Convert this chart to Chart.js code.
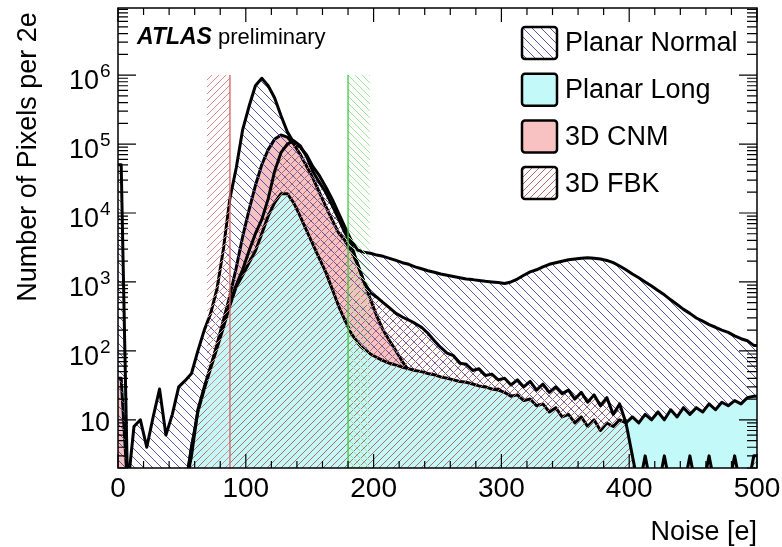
<!DOCTYPE html>
<html>
<head>
<meta charset="utf-8">
<script src="https://cdn.jsdelivr.net/npm/chart.js@4.4.1/dist/chart.umd.min.js"></script>
<style>
  body { margin: 0; background: #fff; }
  canvas { display: block; }
</style>
</head>
<body>
<canvas id="noiseChart" width="782" height="547"></canvas>
<script>
// Histogrammes de bruit, bins de 5 e entre 0 et 500
const binWidth = 5;
const binEdges = Array.from({ length: 100 }, (_, i) => i * binWidth);

// valeurs (1 = bin vide, sous le bas de l'axe)
const planarNormal = [
  50000, 1, 8, 10, 4, 11, 28, 6, 12, 30,
  37, 47, 100, 200, 350, 800, 3000, 16000, 45000, 160000,
  350000, 700000, 900000, 700000, 470000, 260000, 150000, 105000, 90000, 70000,
  47000, 35000, 24000, 16000, 10000, 6300, 4000, 2900, 2700, 2600,
  2450, 2350, 2200, 2050, 1900, 1800, 1650, 1550, 1450, 1380,
  1300, 1250, 1200, 1150, 1100, 1080, 1050, 1020, 1000, 980,
  950, 1000, 1100, 1250, 1400, 1500, 1650, 1800, 1900, 2000,
  2100, 2150, 2200, 2250, 2200, 2150, 2050, 1900, 1700, 1500,
  1300, 1150, 1000, 870, 750, 650, 550, 470, 400, 350,
  300, 270, 240, 220, 200, 185, 165, 150, 140, 120
];
const planarLong = [
  1, 1, 1, 1, 1, 1, 1, 1, 1, 1,
  1, 4, 13, 28, 56, 110, 220, 450, 850, 1250,
  1900, 2800, 5000, 9000, 14000, 19000, 19000, 14000, 9000, 5600,
  3500, 2200, 1400, 800, 450, 280, 180, 130, 105, 90,
  80, 72, 66, 62, 58, 55, 52, 50, 47, 45,
  42, 40, 38, 36, 35, 33, 31, 30, 28, 27,
  25, 22, 23, 19, 20, 16, 17, 13, 15, 11,
  12, 9, 11, 8, 10, 7, 9, 8, 10, 9,
  11, 9, 12, 10, 13, 10, 14, 11, 15, 12,
  15, 13, 17, 14, 18, 16, 19, 17, 21, 22
];
const cnm3d = [
  40, 1, 1, 1, 1, 1, 1, 1, 1, 1,
  1, 4, 12, 25, 56, 125, 280, 630, 1600, 4500,
  11000, 25000, 50000, 83000, 117000, 135000, 126000, 100000, 71000, 48000,
  32000, 20000, 12600, 8000, 5200, 4000, 2800, 1800, 1000, 560,
  320, 200, 140, 100, 70, 52, 42, 38, 44, 34,
  40, 38, 36, 35, 32, 33, 29, 30, 27, 28,
  24, 21, 20, 18, 17, 15, 14, 12, 11, 10,
  10, 9, 8, 8, 7, 6, 6, 5, 4, 3,
  3, 1, 1, 3, 1, 1, 1, 3, 1, 1,
  1, 3, 1, 1, 3, 1, 1, 1, 3, 1
];
const fbk3d = [
  1, 1, 1, 1, 1, 1, 1, 1, 1, 1,
  1, 3, 14, 30, 60, 120, 240, 480, 900, 1500,
  2800, 5000, 8000, 16000, 40000, 75000, 100000, 112000, 95000, 66000,
  40000, 28000, 20000, 13000, 8300, 5200, 3500, 1800, 1000, 700,
  600, 500, 420, 350, 310, 280, 250, 220, 180, 140,
  112, 93, 85, 66, 64, 52, 55, 44, 46, 38,
  40, 32, 38, 30, 36, 27, 33, 25, 30, 24,
  27, 20, 25, 18, 23, 16, 21, 12, 17, 9,
  3, 1, 3, 1, 1, 3, 1, 1, 1, 3,
  1, 1, 3, 1, 1, 1, 3, 1, 1, 3
];

// seuils (bandes hachurées verticales)
const redBand = [69.6, 87.6];
const greenBand = [180, 197];
const bandTop = 1e6;

// axes
const xMin = 0, xMax = 500;
const yMin = 2, yMax = 9.4e6;
const xLabels = [0, 100, 200, 300, 400, 500];
const yDecades = [1, 2, 3, 4, 5, 6];

const legendNames = ['Planar Normal', 'Planar Long', '3D CNM', '3D FBK'];

const FONT = '"Liberation Sans", Arial, Helvetica, sans-serif';

// motif de hachures diagonales
function hatch(color, period, dir, width) {
  const c = document.createElement('canvas');
  c.width = c.height = period;
  const g = c.getContext('2d');
  g.strokeStyle = color;
  g.lineWidth = width;
  g.beginPath();
  for (const k of [-period, 0, period]) {
    if (dir === '/') {
      g.moveTo(-1, period + 1 + k);
      g.lineTo(period + 1, -1 + k);
    } else {
      g.moveTo(-1, -1 + k);
      g.lineTo(period + 1, period + 1 + k);
    }
  }
  g.stroke();
  return g.createPattern(c, 'repeat');
}

const pnHatch = hatch('#5858a8', 9, '\\', 1);
const fbkHatch = hatch('#b26a6a', 7, '/', 1);
const redHatch = hatch('#d88a8a', 7, '/', 1);
const greenHatch = hatch('#9ee39e', 7, '\\', 1);
const cyanFill = '#c4f9f9';
const pinkFill = '#f8c2c2';

// un point au centre de chaque bin, plus les deux bords extrêmes
function toPoints(values) {
  const pts = [{ x: binEdges[0], y: values[0] }];
  values.forEach((v, i) => {
    pts.push({ x: binEdges[i] + binWidth / 2, y: v });
  });
  pts.push({ x: binEdges[binEdges.length - 1] + binWidth, y: values[values.length - 1] });
  return pts;
}

function histo(label, values, fillStyle, order) {
  return {
    label: label,
    data: toPoints(values),
    borderColor: '#000',
    borderWidth: 3,
    borderJoinStyle: 'round',
    backgroundColor: fillStyle,
    fill: 'start',
    pointRadius: 0,
    tension: 0,
    order: order
  };
}

// bandes de seuil par dessus les histogrammes
const thresholds = {
  id: 'thresholds',
  afterDatasetsDraw(chart) {
    const { ctx, chartArea: a, scales: { x, y } } = chart;
    const top = y.getPixelForValue(bandTop);
    ctx.save();
    ctx.beginPath();
    ctx.rect(a.left, a.top, a.right - a.left, a.bottom - a.top);
    ctx.clip();

    let x0 = x.getPixelForValue(redBand[0]);
    let x1 = x.getPixelForValue(redBand[1]);
    ctx.fillStyle = redHatch;
    ctx.fillRect(x0, top, x1 - x0, a.bottom - top);
    ctx.strokeStyle = '#d86060';
    ctx.lineWidth = 1.3;
    ctx.beginPath();
    ctx.moveTo(x1, top);
    ctx.lineTo(x1, a.bottom);
    ctx.stroke();

    x0 = x.getPixelForValue(greenBand[0]);
    x1 = x.getPixelForValue(greenBand[1]);
    ctx.fillStyle = greenHatch;
    ctx.fillRect(x0, top, x1 - x0, a.bottom - top);
    ctx.strokeStyle = '#3ccc3c';
    ctx.beginPath();
    ctx.moveTo(x0, top);
    ctx.lineTo(x0, a.bottom);
    ctx.stroke();
    ctx.restore();
  }
};

// cadre façon ROOT : graduations internes, libellés, légende
const rootFrame = {
  id: 'rootFrame',
  afterDraw(chart) {
    const { ctx, chartArea: a, scales: { x, y } } = chart;
    ctx.save();
    ctx.strokeStyle = '#000';
    ctx.fillStyle = '#000';
    ctx.lineWidth = 1.5;
    ctx.strokeRect(a.left, a.top, a.right - a.left, a.bottom - a.top);

    ctx.lineWidth = 1.2;
    ctx.beginPath();
    for (let v = xMin; v <= xMax; v += 20) {
      const px = x.getPixelForValue(v);
      const len = v % 100 === 0 ? 14 : 7;
      ctx.moveTo(px, a.bottom);
      ctx.lineTo(px, a.bottom - len);
      ctx.moveTo(px, a.top);
      ctx.lineTo(px, a.top + len);
    }
    for (let e = 0; e <= 6; e++) {
      for (let m = 1; m <= 9; m++) {
        const v = m * Math.pow(10, e);
        if (v < yMin || v > yMax) continue;
        const py = y.getPixelForValue(v);
        const len = m === 1 ? 18 : 10;
        ctx.moveTo(a.left, py);
        ctx.lineTo(a.left + len, py);
        ctx.moveTo(a.right, py);
        ctx.lineTo(a.right - len, py);
      }
    }
    ctx.stroke();

    // libellés de l'axe x
    ctx.font = '28px ' + FONT;
    ctx.textAlign = 'center';
    ctx.textBaseline = 'alphabetic';
    xLabels.forEach(v => {
      ctx.fillText(String(v), x.getPixelForValue(v), a.bottom + 29);
    });

    // libellés de l'axe y (10, 10^2 ...)
    yDecades.forEach(e => {
      const py = y.getPixelForValue(Math.pow(10, e));
      ctx.textAlign = 'right';
      ctx.font = '27px ' + FONT;
      if (e === 1) {
        ctx.fillText('10', 110, py + 11);
      } else {
        ctx.fillText('10', 99, py + 14);
        ctx.textAlign = 'left';
        ctx.font = '19px ' + FONT;
        ctx.fillText(String(e), 100, py + 2);
      }
    });

    // titres des axes
    ctx.font = '27px ' + FONT;
    ctx.textAlign = 'right';
    ctx.fillText('Noise [e]', a.right, 540);
    ctx.save();
    ctx.translate(29, 157);
    ctx.rotate(-Math.PI / 2);
    ctx.textAlign = 'center';
    ctx.textBaseline = 'middle';
    ctx.fillText('Number of Pixels per 2e', 0, 0);
    ctx.restore();

    // ATLAS preliminary
    ctx.textAlign = 'left';
    ctx.font = 'italic bold 23px ' + FONT;
    ctx.fillText('ATLAS', 137, 44);
    ctx.font = '22px ' + FONT;
    ctx.fillText('preliminary', 218, 44);

    // légende
    const styles = [pnHatch, cyanFill, pinkFill, fbkHatch];
    legendNames.forEach((name, i) => {
      const top = 27 + i * 46.7;
      ctx.fillStyle = '#fff';
      ctx.fillRect(522, top, 35, 32);
      ctx.fillStyle = styles[i];
      ctx.beginPath();
      ctx.roundRect(522, top, 35, 32, 3);
      ctx.fill();
      ctx.lineWidth = 2.5;
      ctx.strokeStyle = '#000';
      ctx.stroke();
      ctx.fillStyle = '#000';
      ctx.font = '27px ' + FONT;
      ctx.textBaseline = 'middle';
      ctx.fillText(name, 565, top + 17);
      ctx.textBaseline = 'alphabetic';
    });
    ctx.restore();
  }
};

const ctx = document.getElementById('noiseChart').getContext('2d');
const chart = new Chart(ctx, {
  type: 'line',
  data: {
    datasets: [
      histo('Planar Normal', planarNormal, pnHatch, 3),
      histo('Planar Long', planarLong, cyanFill, 2),
      histo('3D CNM', cnm3d, pinkFill, 4),
      histo('3D FBK', fbk3d, fbkHatch, 1)
    ]
  },
  options: {
    responsive: false,
    animation: false,
    layout: { padding: { left: 118, right: 25, top: 8, bottom: 79 } },
    scales: {
      x: { type: 'linear', min: xMin, max: xMax, display: false },
      y: { type: 'logarithmic', min: yMin, max: yMax, display: false }
    },
    plugins: {
      legend: { display: false },
      tooltip: { enabled: false }
    }
  },
  plugins: [thresholds, rootFrame]
});
</script>
</body>
</html>
